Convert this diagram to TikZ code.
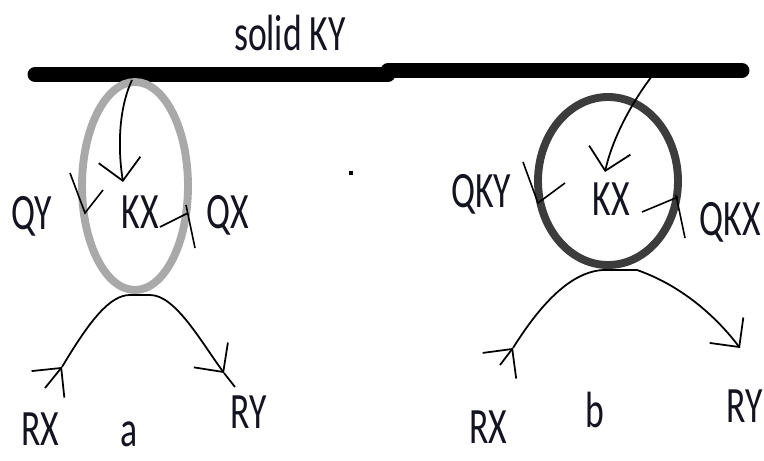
\documentclass[tikz,border=0pt]{standalone}
\usepackage{fontspec}
\setmainfont{Carlito}[FakeStretch=0.7]
\usepackage{tikz}
\usetikzlibrary{arrows.meta}
\definecolor{ringgray}{HTML}{A9A9A9}
\definecolor{ringdark}{HTML}{3C3C3C}
\definecolor{ink}{HTML}{141420}
\tikzset{
  lbl/.style={font=\fontsize{29}{32}\selectfont,anchor=base,inner sep=0pt,text=ink},
  wire/.style={draw=black,line width=1pt},
  barb/.style={wire,-{Straight Barb[length=12pt,width=24pt]}},
  tick/.style={draw=black,line width=0.9pt},
  solidbar/.style={draw=black,line width=8.5pt,line cap=round}
}
\begin{document}
\begin{tikzpicture}[x=0.02cm,y=-0.02cm]
\useasboundingbox (0,0) rectangle (764,460);
\node[lbl] (title) at (290,50) {solid KY};
\draw[solidbar] (35,74.5) -- (388,74.5);
\draw[solidbar] (388,70.5) -- (742,70.5);
\draw[ringgray,line width=4.5pt] (135,186) ellipse [x radius=53,y radius=104];
\draw[ringdark,line width=4.5pt] (608,181) ellipse [x radius=70,y radius=84];
\node[lbl] (qy) at (32,229) {QY};
\node[lbl] (kxL) at (140,228) {KX};
\node[lbl] (qx) at (228,228) {QX};
\node[lbl] (rxL) at (40,445) {RX};
\node[lbl] (labA) at (129,446) {a};
\node[lbl] (ryL) at (249,428) {RY};
\node[lbl] (qky) at (481,207) {QKY};
\node[lbl] (kxR) at (611,215) {KX};
\node[lbl] (qkx) at (730,235) {QKX};
\node[lbl] (rxR) at (488,443) {RX};
\node[lbl] (labB) at (595,427) {b};
\node[lbl] (ryR) at (745,422) {RY};
\coordinate (srcL) at (132,80);
\coordinate (tipL) at (123,182);
\coordinate (srcR) at (652,76);
\coordinate (tipR) at (605,172);
\draw[barb] (srcL) .. controls (118,110) and (118,150) .. (tipL);
\draw[barb] (srcR) .. controls (630,105) and (612,140) .. (tipR);
\coordinate (arcLa) at (45,388);
\coordinate (arcLb) at (62,367);
\coordinate (arcLc) at (224,373);
\coordinate (arcLd) at (235,387);
\draw[barb] (arcLa) -- (arcLb);
\draw[barb] (arcLb) .. controls (90,320) and (110,295) .. (130,295) -- (150,295) .. controls (175,295) and (200,340) .. (arcLc);
\draw[wire] (arcLc) -- (arcLd);
\coordinate (arcRa) at (500,365);
\coordinate (arcRb) at (513,348);
\coordinate (arcRc) at (740,348);
\draw[barb] (arcRa) -- (arcRb);
\draw[barb] (arcRb) .. controls (540,305) and (570,272) .. (603,270) -- (637,270) .. controls (680,285) and (715,315) .. (arcRc);
\draw[tick] (70,173) -- (85,213) -- (103,190);
\draw[tick] (160,227) -- (188,213);
\draw[tick] (186,205) -- (195,248);
\draw[tick] (523,162) -- (538,203) -- (565,183);
\draw[tick] (642,212) -- (678,197);
\draw[tick] (676,195) -- (685,238);
\fill (349,171) rectangle (353,175);
\end{tikzpicture}
\end{document}
